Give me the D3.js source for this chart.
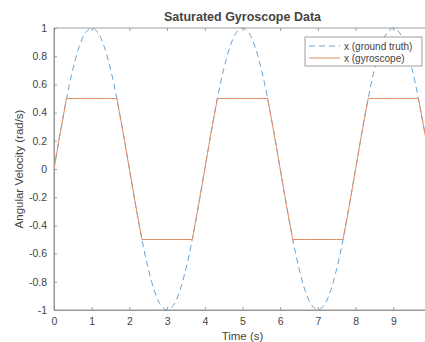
<!DOCTYPE html>
<html>
<head>
<meta charset="utf-8">
<script src="https://cdn.jsdelivr.net/npm/d3@7"></script>
<style>
  body { margin: 0; background: #fff; }
  text { font-family: "Liberation Sans", Arial, sans-serif; fill: #444; }
</style>
</head>
<body>
<svg id="chart" width="425" height="342"></svg>
<script>
// time samples (s), every 1/6 s
const time = [
  0, 0.167, 0.333, 0.5, 0.667, 0.833, 1, 1.167, 1.333, 1.5, 1.667, 1.833,
  2, 2.167, 2.333, 2.5, 2.667, 2.833, 3, 3.167, 3.333, 3.5, 3.667, 3.833,
  4, 4.167, 4.333, 4.5, 4.667, 4.833, 5, 5.167, 5.333, 5.5, 5.667, 5.833,
  6, 6.167, 6.333, 6.5, 6.667, 6.833, 7, 7.167, 7.333, 7.5, 7.667, 7.833,
  8, 8.167, 8.333, 8.5, 8.667, 8.833, 9, 9.167, 9.333, 9.5, 9.667, 9.833, 10
];
// x (ground truth)
const truth = [
  0, 0.259, 0.5, 0.707, 0.866, 0.966, 1, 0.966, 0.866, 0.707, 0.5, 0.259,
  0, -0.259, -0.5, -0.707, -0.866, -0.966, -1, -0.966, -0.866, -0.707, -0.5, -0.259,
  0, 0.259, 0.5, 0.707, 0.866, 0.966, 1, 0.966, 0.866, 0.707, 0.5, 0.259,
  0, -0.259, -0.5, -0.707, -0.866, -0.966, -1, -0.966, -0.866, -0.707, -0.5, -0.259,
  0, 0.259, 0.5, 0.707, 0.866, 0.966, 1, 0.966, 0.866, 0.707, 0.5, 0.259, 0
];
// x (gyroscope), saturated at +/-0.5
const gyro = [
  0, 0.259, 0.5, 0.5, 0.5, 0.5, 0.5, 0.5, 0.5, 0.5, 0.5, 0.259,
  0, -0.259, -0.5, -0.5, -0.5, -0.5, -0.5, -0.5, -0.5, -0.5, -0.5, -0.259,
  0, 0.259, 0.5, 0.5, 0.5, 0.5, 0.5, 0.5, 0.5, 0.5, 0.5, 0.259,
  0, -0.259, -0.5, -0.5, -0.5, -0.5, -0.5, -0.5, -0.5, -0.5, -0.5, -0.259,
  0, 0.259, 0.5, 0.5, 0.5, 0.5, 0.5, 0.5, 0.5, 0.5, 0.5, 0.259, 0
];
const xTicks = [0, 1, 2, 3, 4, 5, 6, 7, 8, 9];
const yTicks = [-1, -0.8, -0.6, -0.4, -0.2, 0, 0.2, 0.4, 0.6, 0.8, 1];
const legendLabels = ["x (ground truth)", "x (gyroscope)"];

const config = {
  left: 54, right: 431, top: 28, bottom: 310,
  blue: "#6aa3d3", orange: "#e08d68", axis: "#888"
};

const svg = d3.select("#chart");

const xScale = d3.scaleLinear().domain([0, 10]).range([config.left, config.right]);
const yScale = d3.scaleLinear().domain([-1, 1]).range([config.bottom, config.top]);

// box
svg.append("rect")
  .attr("x", config.left).attr("y", config.top)
  .attr("width", config.right - config.left)
  .attr("height", config.bottom - config.top)
  .attr("fill", "#fff")
  .attr("stroke", config.axis).attr("stroke-width", 0.8);

// axes
const fmt = d => d === 0 ? "0" : String(d);
const xAxis = d3.axisBottom(xScale).tickValues(xTicks).tickFormat(fmt).tickSizeInner(-3).tickSizeOuter(0).tickPadding(8);
const yAxis = d3.axisLeft(yScale).tickValues(yTicks).tickFormat(fmt).tickSizeInner(-3).tickSizeOuter(0).tickPadding(7);

const gx = svg.append("g").attr("transform", "translate(0," + config.bottom + ")").call(xAxis);
const gy = svg.append("g").attr("transform", "translate(" + config.left + ",0)").call(yAxis);
[gx, gy].forEach(g => {
  g.select(".domain").attr("stroke", config.axis).attr("stroke-width", 0.8);
  g.selectAll(".tick line").attr("stroke", config.axis).attr("stroke-width", 0.8);
  g.selectAll(".tick text").attr("font-size", 10.5).attr("fill", "#666")
    .attr("font-family", "Liberation Sans, Arial, sans-serif");
});
// top ticks
svg.append("g").attr("transform", "translate(0," + config.top + ")")
  .call(d3.axisTop(xScale).tickValues(xTicks).tickFormat("").tickSizeInner(-3).tickSizeOuter(0))
  .call(g => {
    g.select(".domain").remove();
    g.selectAll(".tick line").attr("stroke", config.axis).attr("stroke-width", 0.8);
  });

// lines
const line = d3.line()
  .x((d, i) => xScale(time[i]))
  .y(d => yScale(d));
const smooth = d3.line()
  .x((d, i) => xScale(time[i]))
  .y(d => yScale(d))
  .curve(d3.curveCatmullRom);

const clipId = "plotclip";
svg.append("clipPath").attr("id", clipId).append("rect")
  .attr("x", config.left).attr("y", config.top - 2)
  .attr("width", config.right - config.left).attr("height", config.bottom - config.top + 4);

svg.append("path")
  .attr("d", smooth(truth))
  .attr("fill", "none").attr("stroke", config.blue)
  .attr("stroke-width", 1).attr("stroke-dasharray", "6,4")
  .attr("clip-path", "url(#" + clipId + ")");
svg.append("path")
  .attr("d", line(gyro))
  .attr("fill", "none").attr("stroke", config.orange)
  .attr("stroke-width", 1)
  .attr("clip-path", "url(#" + clipId + ")");

// legend
const lg = svg.append("g").attr("transform", "translate(305,37)");
lg.append("rect").attr("width", 117).attr("height", 29)
  .attr("fill", "#fff").attr("stroke", config.axis).attr("stroke-width", 0.8);
legendLabels.forEach((lab, i) => {
  const y = 9 + i * 12;
  lg.append("line").attr("x1", 4).attr("x2", 35).attr("y1", y).attr("y2", y)
    .attr("stroke", i === 0 ? config.blue : config.orange).attr("stroke-width", 1)
    .attr("stroke-dasharray", i === 0 ? "6,4" : null);
  lg.append("text").attr("x", 39).attr("y", y + 3.5).attr("font-size", 10).attr("fill", "#555").text(lab);
});

// titles
const cx = (config.left + config.right) / 2;
svg.append("text").attr("x", cx).attr("y", 21).attr("text-anchor", "middle")
  .attr("font-size", 12.5).attr("font-weight", "bold").attr("fill", "#333")
  .text("Saturated Gyroscope Data");
svg.append("text").attr("x", cx).attr("y", 340).attr("text-anchor", "middle")
  .attr("font-size", 11.5).attr("fill", "#555").text("Time (s)");
svg.append("text").attr("transform", "translate(23," + ((config.top + config.bottom) / 2) + ") rotate(-90)")
  .attr("text-anchor", "middle").attr("font-size", 11.5).attr("fill", "#555")
  .text("Angular Velocity (rad/s)");
</script>
</body>
</html>
